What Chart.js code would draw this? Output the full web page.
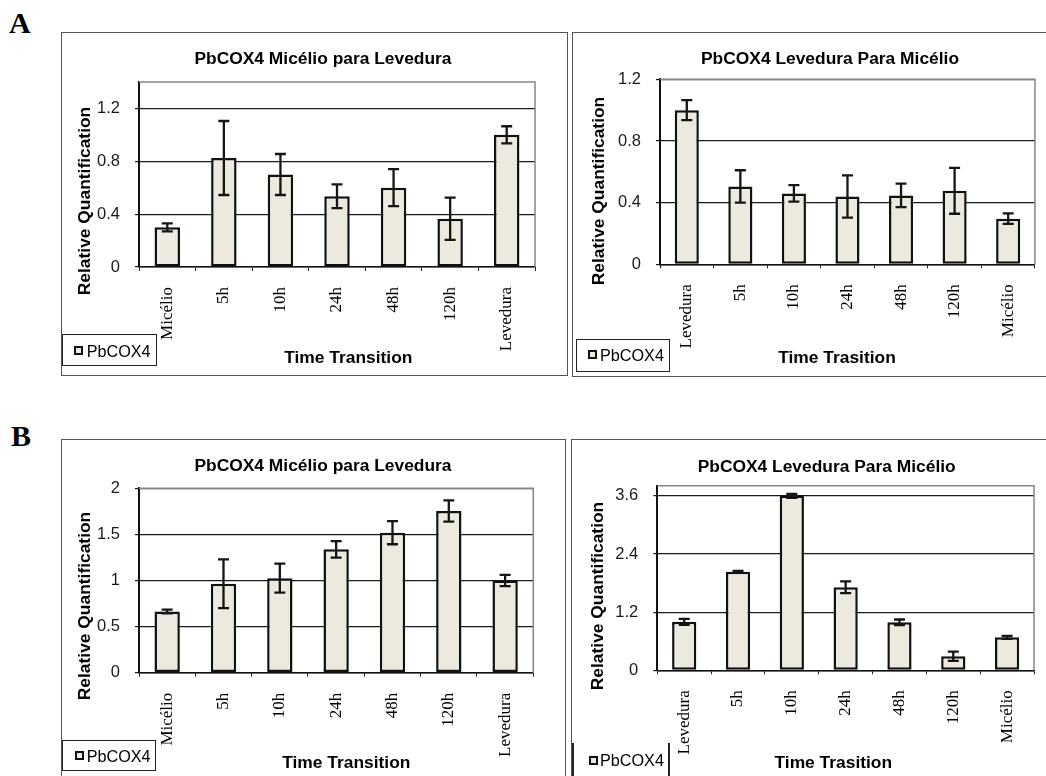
<!DOCTYPE html>
<html>
<head>
<meta charset="utf-8">
<script src="https://cdn.jsdelivr.net/npm/chart.js@4/dist/chart.umd.min.js"></script>
<style>
  html, body { margin:0; padding:0; background:#fff; }
  body { width:1046px; height:776px; position:relative; overflow:hidden; }
  .abs { position:absolute; }
  .frame { position:absolute; box-sizing:border-box; border:1.5px solid #555; }
  .ttl { position:absolute; transform:translate(-50%,-50%); font:bold 17.4px 'Liberation Sans', Arial, sans-serif; line-height:1; white-space:nowrap; color:#000; }
  .ytl { position:absolute; transform:translate(-50%,-50%) rotate(-90deg); font:bold 17.4px 'Liberation Sans', Arial, sans-serif; line-height:1; white-space:nowrap; color:#000; }
  .lbox { position:absolute; box-sizing:border-box; border:1.5px solid #222; }
  .lmark { position:absolute; box-sizing:border-box; width:9px; height:9px; border:2px solid #111; background:#ECE9DE; }
  .ltxt { position:absolute; transform:translateY(-50%); font:16.2px 'Liberation Sans', Arial, sans-serif; line-height:1; white-space:nowrap; color:#000; }
  .letter { position:absolute; font:bold 30px 'Liberation Serif', 'Times New Roman', serif; line-height:30px; color:#000; }
  canvas { position:absolute; }
</style>
</head>
<body>
<div class="letter" style="left:9px;top:8px;">A</div>
<div class="letter" style="left:11px;top:421px;">B</div>

<div class="frame" style="left:61px;top:32px;width:507px;height:344px;"></div>
<div class="frame" style="left:572px;top:32px;width:480px;height:345px;"></div>
<div class="frame" style="left:61px;top:439px;width:505px;height:345px;"></div>
<div class="frame" style="left:570.5px;top:439px;width:480px;height:345px;"></div>

<canvas id="c1" width="505" height="342" style="left:62px;top:33px;"></canvas>
<canvas id="c2" width="472" height="344" style="left:573px;top:33px;"></canvas>
<canvas id="c3" width="503" height="336" style="left:62px;top:440px;"></canvas>
<canvas id="c4" width="474" height="336" style="left:571px;top:440px;"></canvas>

<div class="ttl" style="left:323px;top:59.3px;">PbCOX4 Micélio para Levedura</div>
<div class="ttl" style="left:830px;top:59.3px;">PbCOX4 Levedura Para Micélio</div>
<div class="ttl" style="left:323px;top:466.3px;">PbCOX4 Micélio para Levedura</div>
<div class="ttl" style="left:826.7px;top:466.7px;">PbCOX4 Levedura Para Micélio</div>

<div class="ttl" style="left:348.3px;top:358px;">Time Transition</div>
<div class="ttl" style="left:837px;top:358px;">Time Trasition</div>
<div class="ttl" style="left:346.3px;top:763px;">Time Transition</div>
<div class="ttl" style="left:833.3px;top:763px;">Time Trasition</div>

<div class="ytl" style="left:84.5px;top:200.8px;">Relative Quantification</div>
<div class="ytl" style="left:598.8px;top:190.8px;">Relative Quantification</div>
<div class="ytl" style="left:84.5px;top:606.2px;">Relative Quantification</div>
<div class="ytl" style="left:597.5px;top:596.3px;">Relative Quantification</div>

<div class="lbox" style="left:61.7px;top:334px;width:95px;height:32px;"></div>
<div class="lmark" style="left:74px;top:346.3px;"></div>
<div class="ltxt" style="left:86.7px;top:350.7px;">PbCOX4</div>

<div class="lbox" style="left:575.7px;top:339px;width:94.3px;height:32.7px;"></div>
<div class="lmark" style="left:588.3px;top:350.2px;"></div>
<div class="ltxt" style="left:600px;top:354.8px;">PbCOX4</div>

<div class="lbox" style="left:61.7px;top:740px;width:94px;height:30.7px;"></div>
<div class="lmark" style="left:75px;top:751.3px;"></div>
<div class="ltxt" style="left:86.7px;top:755.8px;">PbCOX4</div>

<div class="abs" style="left:572px;top:743px;width:1.5px;height:33px;background:#222;"></div>
<div class="abs" style="left:668px;top:743px;width:1.5px;height:33px;background:#222;"></div>
<div class="lmark" style="left:588.5px;top:755.7px;"></div>
<div class="ltxt" style="left:600px;top:760.2px;">PbCOX4</div>

<script>
// ---- Data ----
const catsMY = ["Micélio", "5h", "10h", "24h", "48h", "120h", "Levedura"];
const catsYM = ["Levedura", "5h", "10h", "24h", "48h", "120h", "Micélio"];

const a1Values = [0.30, 0.825, 0.70, 0.535, 0.60, 0.365, 1.0];
const a1Errors = [0.03, 0.28, 0.155, 0.09, 0.14, 0.16, 0.065];

const a2Values = [1.0, 0.505, 0.46, 0.44, 0.447, 0.477, 0.296];
const a2Errors = [0.065, 0.105, 0.053, 0.137, 0.076, 0.149, 0.034];

const b1Values = [0.665, 0.965, 1.025, 1.338, 1.518, 1.754, 1.0];
const b1Errors = [0.02, 0.265, 0.157, 0.09, 0.125, 0.115, 0.06];

const b2Values = [1.0, 2.036, 3.6, 1.714, 0.99, 0.289, 0.68];
const b2Errors = [0.063, 0.015, 0.04, 0.12, 0.058, 0.095, 0.03];

const a1Ticks = [0, 0.4, 0.8, 1.2];
const a1TickLabels = ["0", "0.4", "0.8", "1.2"];
const a2Ticks = [0, 0.4, 0.8, 1.2];
const a2TickLabels = ["0", "0.4", "0.8", "1.2"];
const b1Ticks = [0, 0.5, 1, 1.5, 2];
const b1TickLabels = ["0", "0.5", "1", "1.5", "2"];
const b2Ticks = [0, 1.2, 2.4, 3.6];
const b2TickLabels = ["0", "1.2", "2.4", "3.6"];

// ---- Plugins ----
const plotFrame = {
  id: 'plotFrame',
  beforeDatasetsDraw(chart) {
    const {ctx, chartArea:a} = chart;
    ctx.save();
    ctx.strokeStyle = '#858585';
    ctx.lineWidth = 1.5;
    ctx.beginPath();
    ctx.moveTo(a.left, a.top);
    ctx.lineTo(a.right, a.top);
    ctx.lineTo(a.right, a.bottom);
    ctx.stroke();
    ctx.restore();
  }
};

const errorBars = {
  id: 'errorBars',
  afterDatasetsDraw(chart) {
    const {ctx} = chart;
    const ys = chart.scales.y;
    const ds = chart.data.datasets[0];
    const meta = chart.getDatasetMeta(0);
    ctx.save();
    ctx.strokeStyle = '#151515';
    ctx.lineWidth = 2.3;
    meta.data.forEach((bar, i) => {
      const v = ds.data[i], e = ds.errors[i];
      const x = bar.x;
      const yt = ys.getPixelForValue(v + e);
      const yb = ys.getPixelForValue(v - e);
      const cw = 5.5;
      ctx.beginPath();
      ctx.moveTo(x, yt); ctx.lineTo(x, yb);
      ctx.moveTo(x - cw, yt); ctx.lineTo(x + cw, yt);
      ctx.moveTo(x - cw, yb); ctx.lineTo(x + cw, yb);
      ctx.stroke();
    });
    ctx.restore();
  }
};

function makeChart(id, cats, values, errors, yMax, tickVals, tickLabels, L) {
  return new Chart(document.getElementById(id), {
    type: 'bar',
    data: {
      labels: cats,
      datasets: [{
        data: values,
        errors: errors,
        backgroundColor: '#ECE9DE',
        borderColor: '#111',
        borderWidth: 2.5,
        borderSkipped: false,
        barPercentage: 0.45,
        categoryPercentage: 1
      }]
    },
    options: {
      responsive: false,
      animation: false,
      devicePixelRatio: 1,
      layout: { padding: { top: L.padTop, right: L.padRight, left: 0, bottom: 0 } },
      plugins: { legend: { display: false }, title: { display: false }, tooltip: { enabled: false } },
      scales: {
        x: {
          grid: { offset: true, drawOnChartArea: false, drawTicks: true, tickLength: 4, color: '#222', lineWidth: 1 },
          border: { color: '#111', width: 1.5 },
          ticks: { autoSkip: false, minRotation: 90, maxRotation: 90, padding: 16, color: '#000',
                   font: { family: 'Liberation Serif', size: 17 } },
          afterFit(s) { s.height = L.xH; }
        },
        y: {
          min: 0, max: yMax,
          grid: { color: '#1a1a1a', lineWidth: 1.2, tickLength: 4 },
          border: { color: '#111', width: 2 },
          ticks: { padding: 15, color: '#1a1a1a', font: { family: 'Liberation Sans', size: 16.5 },
                   callback: (v) => { const k = tickVals.indexOf(v); return k >= 0 ? tickLabels[k] : ''; } },
          afterBuildTicks(s) { s.ticks = tickVals.map(v => ({ value: v })); },
          afterFit(s) { s.width = L.yW; }
        }
      }
    },
    plugins: [plotFrame, errorBars]
  });
}

makeChart('c1', catsMY, a1Values, a1Errors, 1.4, a1Ticks, a1TickLabels, { yW: 77, xH: 108, padTop: 49, padRight: 32 });
makeChart('c2', catsYM, a2Values, a2Errors, 1.2, a2Ticks, a2TickLabels, { yW: 87, xH: 112.7, padTop: 46.3, padRight: 6 });
makeChart('c3', catsMY, b1Values, b1Errors, 2, b1Ticks, b1TickLabels, { yW: 77, xH: 103.3, padTop: 48.3, padRight: 31.7 });
makeChart('c4', catsYM, b2Values, b2Errors, 3.81, b2Ticks, b2TickLabels, { yW: 86.3, xH: 105.7, padTop: 45.7, padRight: 11 });
</script>
</body>
</html>
